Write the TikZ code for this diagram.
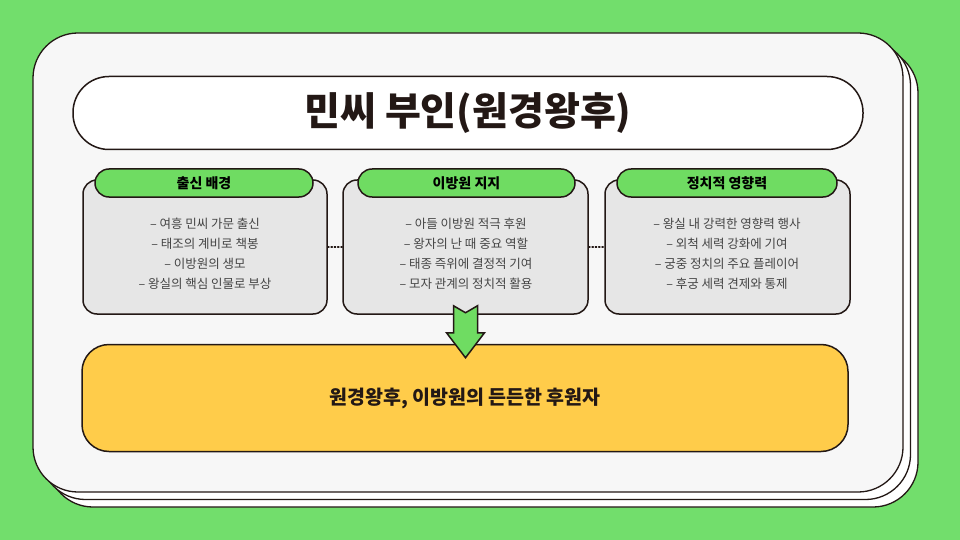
\documentclass[tikz,border=0pt]{standalone}
\usepackage{fontspec}
\setmainfont{Noto Sans CJK KR}
\usetikzlibrary{calc}

\definecolor{bggreen}{HTML}{72DE6C}
\definecolor{pillgreen}{HTML}{6FDC62}
\definecolor{cardgray}{HTML}{E6E6E6}
\definecolor{paper}{HTML}{F7F7F7}
\definecolor{ink}{HTML}{231815}
\definecolor{gold}{HTML}{FFCC4A}
\definecolor{txtgray}{HTML}{444444}

\tikzset{
  sheet/.style={draw=ink, line width=1.3pt, rounded corners=45pt},
  card/.style={draw=ink, fill=cardgray, line width=1.5pt, rounded corners=14pt,
    minimum width=244pt, minimum height=134pt},
  pill/.style={draw=ink, fill=pillgreen, line width=1.5pt, rounded corners=14pt,
    minimum width=218pt, minimum height=28pt, font=\fontsize{14}{16}\selectfont\bfseries},
  item/.style={text=txtgray, font=\fontsize{12.5}{14}\selectfont, align=center}
}

\begin{document}
\begin{tikzpicture}[x=1pt, y=-1pt, line cap=round, line join=round]
  \useasboundingbox (0,0) rectangle (960,540);
  \fill[bggreen] (0,0) rectangle (960,540);
  % --- stacked sheets ---
  \draw[sheet, fill=white] (48,48) rectangle (918,507);
  \draw[sheet, fill=white] (40.5,40.5) rectangle (910.5,499.5);
  \draw[sheet, fill=paper] (33,33) rectangle (903,492);
  % --- title ---
  \node[draw=ink, fill=white, line width=1.5pt, rounded corners=36pt,
    minimum width=790pt, minimum height=73pt,
    font=\fontsize{39}{42}\selectfont\bfseries, text=ink] (title) at (468,113)
    {민씨 부인(원경왕후)};
  % --- three cards ---
  \node[card] (birth) at (205,247) {};
  \node[card, minimum width=245pt] (support) at (465.5,247) {};
  \node[card, minimum width=245pt] (power) at (727.5,247) {};
  \node[pill] (birthhead) at (204,183) {출신 배경};
  \node[pill, minimum width=217pt] (supporthead) at (466.5,183) {이방원 지지};
  \node[pill, minimum width=220pt] (powerhead) at (727,183) {정치적 영향력};
  \node[item] (birthtext) at (205,254) {
    – 여흥 민씨 가문 출신\\[6pt]
    – 태조의 계비로 책봉\\[6pt]
    – 이방원의 생모\\[6pt]
    – 왕실의 핵심 인물로 부상};
  \node[item] (supporttext) at (466,254) {
    – 아들 이방원 적극 후원\\[6pt]
    – 왕자의 난 때 중요 역할\\[6pt]
    – 태종 즉위에 결정적 기여\\[6pt]
    – 모자 관계의 정치적 활용};
  \node[item] (powertext) at (727,254) {
    – 왕실 내 강력한 영향력 행사\\[6pt]
    – 외척 세력 강화에 기여\\[6pt]
    – 궁중 정치의 주요 플레이어\\[6pt]
    – 후궁 세력 견제와 통제};
  \draw[ink, line width=1.3pt, dotted] (birth.east) -- (support.west);
  \draw[ink, line width=1.3pt, dotted] (support.east) -- (power.west);
  % --- result ---
  \node[draw=ink, fill=gold, line width=1.5pt, rounded corners=27pt,
    minimum width=766pt, minimum height=107pt,
    font=\fontsize{19.5}{22}\selectfont\bfseries, text=ink] (result) at (465,398)
    {원경왕후, 이방원의 든든한 후원자};
  % --- arrow ---
  \coordinate (tip) at ($(support.south)+(0,43)$);
  \draw[ink, fill=pillgreen, line width=1.5pt, line join=miter]
    ($(tip)+(-12,-52)$) -- ($(tip)+(0,-45)$) -- ($(tip)+(12,-52)$)
    -- ($(tip)+(12,-25)$) -- ($(tip)+(19,-25)$) -- (tip)
    -- ($(tip)+(-19,-25)$) -- ($(tip)+(-12,-25)$) -- cycle;
\end{tikzpicture}
\end{document}
